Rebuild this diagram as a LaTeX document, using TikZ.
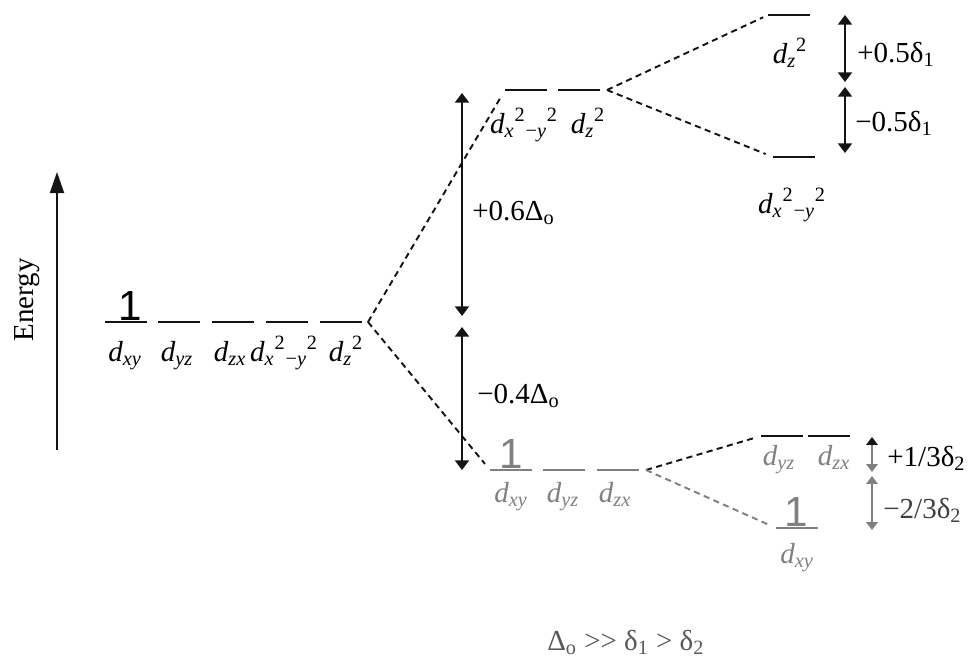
\documentclass[tikz,border=0pt]{standalone}
\usepackage{fontspec}
\setmainfont{Liberation Serif}
\newfontfamily\spinfont{Liberation Sans}
\usetikzlibrary{arrows.meta}
\colorlet{lvlblack}{black!92}
\colorlet{lvlgray} {black!50}
\colorlet{txtgray} {black!65}
\newcommand{\dorb}[1]{\textit{d}\textsubscript{\textit{#1}}}
\newcommand{\dxsq}{\textit{d}\textsubscript{\textit{x}}\textsuperscript{2}\textsubscript{−\textit{y}}\textsuperscript{2}}
\newcommand{\dzsq}{\textit{d}\textsubscript{\textit{z}}\textsuperscript{2}}
\begin{document}
\begin{tikzpicture}[x=0.02cm, y=-0.02cm, font=\fontsize{16.5}{19}\selectfont,
    lvl/.style={minimum width=0.84cm, minimum height=0pt, inner sep=0pt, outer sep=0pt},
    lvlline/.style={line width=1.2pt},
    lab/.style={anchor=base, inner sep=0pt},
    val/.style={anchor=base west, inner sep=0pt},
    spin/.style={anchor=south, inner sep=0pt, font=\spinfont\fontsize{24}{24}\selectfont},
    conn/.style={dash pattern=on 3.5pt off 2.5pt, line width=1.1pt},
    gap/.style={{Triangle[length=5.5pt,width=8pt]}-{Triangle[length=5.5pt,width=8pt]}, line width=1.1pt},
    smallgap/.style={{Triangle[length=4.5pt,width=6.5pt]}-{Triangle[length=4.5pt,width=6.5pt]}, line width=1.1pt}]
    \useasboundingbox (0,0) rectangle (968,657);
    %--- Energiakse ---
    \coordinate (en0) at (57,450);
    \coordinate (en1) at (57,172);
    \draw[-{Triangle[length=12pt,width=8pt]}, line width=1.1pt, lvlblack](en0)--(en1);
    \node[rotate=90] (energy) at (27,300){Energy};
    %--- Fritt ion ---
    \foreach \n/\x in {1/126,2/179,3/233,4/287,5/341}
      \node[lvl] (f\n) at (\x,322){};
    \node[spin] (f1s) at (130,321){1};
    \node[lab] (f1l) at (125,361){\dorb{xy}};
    \node[lab] (f2l) at (177,361){\dorb{yz}};
    \node[lab] (f3l) at (230,361){\dorb{zx}};
    \node[lab] (f4l) at (284,361){\dxsq};
    \node[lab] (f5l) at (346,361){\dzsq};
    %--- Oktaedrisk felt ---
    \node[lvl] (e1) at (526,90){};
    \node[lvl] (e2) at (579,90){};
    \node[lab] (e1l) at (524,133){\dxsq};
    \node[lab] (e2l) at (588,133){\dzsq};
    \foreach \n/\x in {1/511,2/564,3/618}
      \node[lvl] (t\n) at (\x,470){};
    \node[spin, lvlgray] (t1s) at (511,469){1};
    \node[lab, lvlgray] (t1l) at (511,502){\dorb{xy}};
    \node[lab, lvlgray] (t2l) at (563,502){\dorb{yz}};
    \node[lab, lvlgray] (t3l) at (615,502){\dorb{zx}};
    %--- Tetragonal forvrengning ---
    \node[lvl] (r1) at (789,15){};
    \node[lvl] (r2) at (794,157){};
    \node[lab] (r1l) at (790,63){\dzsq};
    \node[lab] (r2l) at (792,213){\dxsq};
    \node[lvl] (s1) at (782,436){};
    \node[lvl] (s2) at (829,436){};
    \node[lvl] (s3) at (797,528){};
    \node[lab, lvlgray] (s1l) at (779,465){\dorb{yz}};
    \node[lab, lvlgray] (s2l) at (834,465){\dorb{zx}};
    \node[spin, lvlgray] (s3s) at (796,527){1};
    \node[lab, lvlgray] (s3l) at (797,563){\dorb{xy}};
    %--- Nivaalinjer ---
    \foreach \n in {f1,f2,f3,f4,f5,e1,e2,r1,r2,s1,s2}
      \draw[lvlline, lvlblack](\n.west)--(\n.east);
    \foreach \n in {t1,t2,t3,s3}
      \draw[lvlline, lvlgray](\n.west)--(\n.east);
    %--- Korrelasjonslinjer ---
    \coordinate (fv) at (368,322);
    \coordinate (ev) at (607,90);
    \coordinate (tv) at (646,470);
    \draw[conn, lvlblack, shorten >=4.5pt](fv)--(e1.west);
    \draw[conn, lvlblack, shorten >=4.5pt](fv)--(t1.west);
    \draw[conn, lvlblack, shorten >=3pt](ev)--(r1.west);
    \draw[conn, lvlblack, shorten >=4.5pt](ev)--(r2.west);
    \draw[conn, lvlblack, shorten >=4pt](tv)--(s1.west);
    \draw[conn, lvlgray, shorten >=5pt](tv)--(s3.west);
    %--- Splittinger ---
    \coordinate (a1) at (462,93);
    \coordinate (a2) at (462,316);
    \coordinate (a3) at (462,327);
    \coordinate (a4) at (462,470);
    \draw[gap, lvlblack](a1)--(a2);
    \draw[gap, lvlblack](a3)--(a4);
    \node[val] (dO1) at (472,220){+0.6Δ\textsubscript{o}};
    \node[val] (dO2) at (477,403){−0.4Δ\textsubscript{o}};
    \coordinate (b1) at (845,15);
    \coordinate (b2) at (845,82);
    \coordinate (b3) at (845,87);
    \coordinate (b4) at (845,153);
    \draw[gap, lvlblack](b1)--(b2);
    \draw[gap, lvlblack](b3)--(b4);
    \node[val] (d11) at (857,62){+0.5δ\textsubscript{1}};
    \node[val] (d12) at (855,131){−0.5δ\textsubscript{1}};
    \coordinate (c1) at (872,437);
    \coordinate (c2) at (872,472);
    \coordinate (c3) at (872,476);
    \coordinate (c4) at (872,530);
    \draw[smallgap, lvlgray, {Triangle[length=4.5pt,width=6.5pt,color=lvlblack]}-{Triangle[length=4.5pt,width=6.5pt]}](c1)--(c2);
    \draw[smallgap, lvlgray](c3)--(c4);
    \node[val] (d21) at (887,466){+1/3δ\textsubscript{2}};
    \node[val, black!75] (d22) at (883,518){−2/3δ\textsubscript{2}};
    %--- Relasjon ---
    \node[val, txtgray] (rel) at (547,650){Δ\textsubscript{o} >{}> δ\textsubscript{1} > δ\textsubscript{2}};
  \end{tikzpicture}
\end{document}
